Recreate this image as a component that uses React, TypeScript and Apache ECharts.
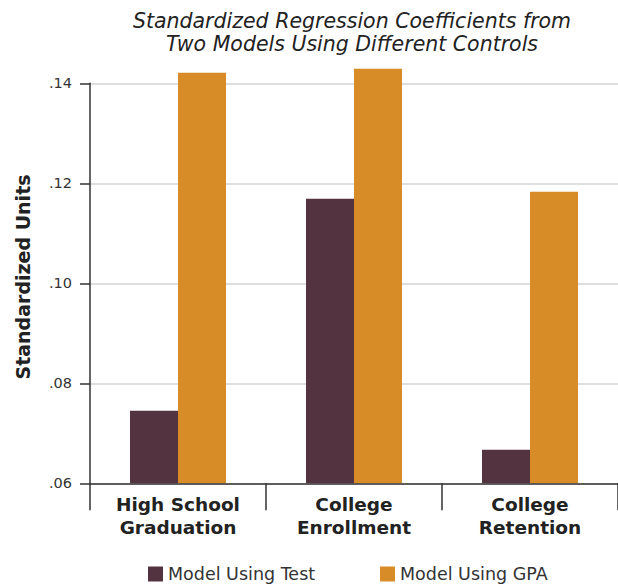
import React, { useEffect, useRef } from "react";
import * as echarts from "echarts";

const categories = ["High School\nGraduation", "College\nEnrollment", "College\nRetention"];
const seriesNames = ["Model Using Test", "Model Using GPA"];
const testValues = [0.0745, 0.1169, 0.0667];
const gpaValues = [0.1421, 0.1429, 0.1183];
const yMin = 0.06;
const yMax = 0.14;
const yInterval = 0.02;
const titleLines = [
  "Standardized Regression Coefficients from",
  "Two Models Using Different Controls",
];
const yAxisTitle = "Standardized Units";

const FONT = "'DejaVu Sans', 'Noto Sans', sans-serif";
const C_TEST = "#533340";
const C_GPA = "#D88C28";
const GRID_COLOR = "#d4d4d4";
const AXIS_COLOR = "#333333";

export default function App() {
  const ref = useRef<HTMLDivElement>(null);
  useEffect(() => {
    if (!ref.current) return;
    const chart = echarts.init(ref.current, undefined, { renderer: "svg" });
    const top = 83.3;
    const height = 400;
    // bar grid shares the same scale but has headroom above .14 so bars are not clipped
    const barMax = yMax + 0.01;
    const pxPerUnit = height / (yMax - yMin);
    const barHeight = (barMax - yMin) * pxPerUnit;
    const barTop = top + height - barHeight;
    const legendText = { fontFamily: FONT, fontSize: 17.5, color: "#333333" };
    chart.setOption({
      animation: false,
      backgroundColor: "#ffffff",
      textStyle: { fontFamily: FONT },
      graphic: [
        {
          type: "text",
          x: 352,
          y: 9,
          style: {
            text: titleLines.join("\n"),
            textAlign: "center",
            textVerticalAlign: "top",
            fontFamily: FONT,
            fontStyle: "italic",
            fontSize: 20.5,
            lineHeight: 23,
            fill: "#222222",
          },
        },
        {
          type: "text",
          x: 23,
          y: 277,
          rotation: Math.PI / 2,
          style: {
            text: yAxisTitle,
            textAlign: "center",
            textVerticalAlign: "middle",
            fontFamily: FONT,
            fontWeight: "bold",
            fontSize: 19,
            fill: "#222222",
          },
        },
      ],
      legend: [
        {
          data: [seriesNames[0]],
          left: 148,
          top: 565,
          padding: 0,
          icon: "rect",
          itemWidth: 15,
          itemHeight: 15,
          textStyle: legendText,
        },
        {
          data: [seriesNames[1]],
          left: 380,
          top: 565,
          padding: 0,
          icon: "rect",
          itemWidth: 15,
          itemHeight: 15,
          textStyle: legendText,
        },
      ],
      grid: [
        { left: 90, right: 0, top, height, containLabel: false },
        { left: 90, right: 0, top: barTop, height: barHeight, containLabel: false },
      ],
      xAxis: [
        {
          type: "category",
          gridIndex: 0,
          data: categories,
          z: 5,
          axisLine: { show: true, lineStyle: { color: AXIS_COLOR, width: 1.5 } },
          axisTick: { show: true, length: 27, lineStyle: { color: AXIS_COLOR, width: 1.5 } },
          axisLabel: {
            fontFamily: FONT,
            fontWeight: "bold",
            fontSize: 18.5,
            lineHeight: 23,
            color: "#222222",
            margin: 10,
          },
        },
        {
          type: "category",
          gridIndex: 1,
          data: categories,
          show: false,
        },
      ],
      yAxis: [
        {
          type: "value",
          gridIndex: 0,
          min: yMin,
          max: yMax,
          interval: yInterval,
          axisLine: { show: true, lineStyle: { color: AXIS_COLOR, width: 1.5 } },
          axisTick: { show: true, length: 10, lineStyle: { color: AXIS_COLOR, width: 1.5 } },
          axisLabel: {
            fontFamily: FONT,
            fontSize: 14.5,
            color: "#333333",
            margin: 18,
            formatter: (v: number) => v.toFixed(2).replace(/^0/, ""),
          },
          splitLine: { show: true, lineStyle: { color: GRID_COLOR, width: 1.5 } },
        },
        {
          type: "value",
          gridIndex: 1,
          min: yMin,
          max: barMax,
          show: false,
          splitLine: { show: false },
        },
      ],
      series: [
        {
          name: seriesNames[0],
          type: "bar",
          xAxisIndex: 1,
          yAxisIndex: 1,
          data: testValues,
          barWidth: 48,
          barGap: "0%",
          itemStyle: { color: C_TEST },
        },
        {
          name: seriesNames[1],
          type: "bar",
          xAxisIndex: 1,
          yAxisIndex: 1,
          data: gpaValues,
          barWidth: 48,
          barGap: "0%",
          itemStyle: { color: C_GPA },
        },
      ],
    });
    return () => chart.dispose();
  }, []);
  return (
    <div
      ref={ref}
      style={{ position: "fixed", left: 0, top: 0, width: 618, height: 584 }}
    />
  );
}
